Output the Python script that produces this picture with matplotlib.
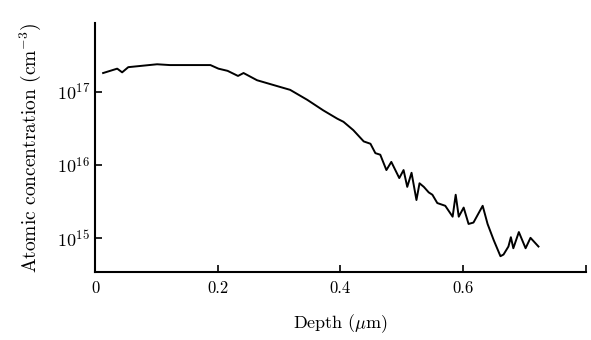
import matplotlib
matplotlib.use("Agg")
import matplotlib.pyplot as plt

plt.rcParams["font.family"] = ["cmr10", "DejaVu Serif"]
plt.rcParams["mathtext.fontset"] = "cm"

# depth profile
depth = [0.013, 0.036, 0.044, 0.054, 0.101, 0.122, 0.188, 0.201, 0.216, 0.233,
         0.242, 0.264, 0.302, 0.318, 0.346, 0.372, 0.395, 0.405, 0.421, 0.438,
         0.449, 0.457, 0.465, 0.475, 0.483, 0.496, 0.503, 0.509, 0.516, 0.524,
         0.529, 0.536, 0.544, 0.550, 0.558, 0.571, 0.583, 0.588, 0.593, 0.601,
         0.609, 0.617, 0.632, 0.640, 0.650, 0.661, 0.666, 0.674, 0.678, 0.682,
         0.691, 0.702, 0.710, 0.723]
conc = [1.82e17, 2.09e17, 1.86e17, 2.19e17, 2.40e17, 2.34e17, 2.34e17, 2.09e17, 1.95e17, 1.66e17,
        1.82e17, 1.45e17, 1.17e17, 1.07e17, 7.8e16, 5.6e16, 4.3e16, 3.9e16, 3.0e16, 2.1e16,
        1.95e16, 1.45e16, 1.38e16, 8.5e15, 1.1e16, 6.6e15, 8.5e15, 5.0e15, 7.8e15, 3.3e15,
        5.6e15, 5.0e15, 4.2e15, 3.9e15, 3.0e15, 2.75e15, 1.95e15, 3.9e15, 1.95e15, 2.6e15,
        1.55e15, 1.62e15, 2.75e15, 1.55e15, 9.3e14, 5.6e14, 5.9e14, 7.6e14, 1.02e15, 7.2e14,
        1.2e15, 7.2e14, 1.0e15, 7.6e14]

xticks = [0, 0.2, 0.4, 0.6, 0.8]
xticklabels = ["0", "0.2", "0.4", "0.6", ""]
yticks = [1e15, 1e16, 1e17]
yticklabels = [r"$10^{15}$", r"$10^{16}$", r"$10^{17}$"]

fig = plt.figure(figsize=(5.91, 3.40), dpi=100)
ax = fig.add_axes([0.161, 0.2, 0.83, 0.732])

ax.plot(depth, conc, color="black", lw=1.4)
ax.set_yscale("log")
ax.set_xlim(0, 0.8)
ax.set_ylim(3.4e14, 8.8e17)

ax.set_xticks(xticks)
ax.set_xticklabels(xticklabels)
ax.set_yticks(yticks)
ax.set_yticklabels(yticklabels)
ax.set_yticks([], minor=True)
ax.tick_params(direction="in", length=5, width=1.2, labelsize=12)
ax.tick_params(axis="y", labelsize=13)
ax.tick_params(axis="x", pad=6)

for s in ["top", "right"]:
    ax.spines[s].set_visible(False)
for s in ["left", "bottom"]:
    ax.spines[s].set_linewidth(1.5)

ax.set_xlabel(r"Depth ($\mu$m)", fontsize=13, labelpad=12)
ax.set_ylabel(r"Atomic concentration (cm$^{-3}$)", fontsize=14, labelpad=10)

fig.savefig("out.png", dpi=100)
